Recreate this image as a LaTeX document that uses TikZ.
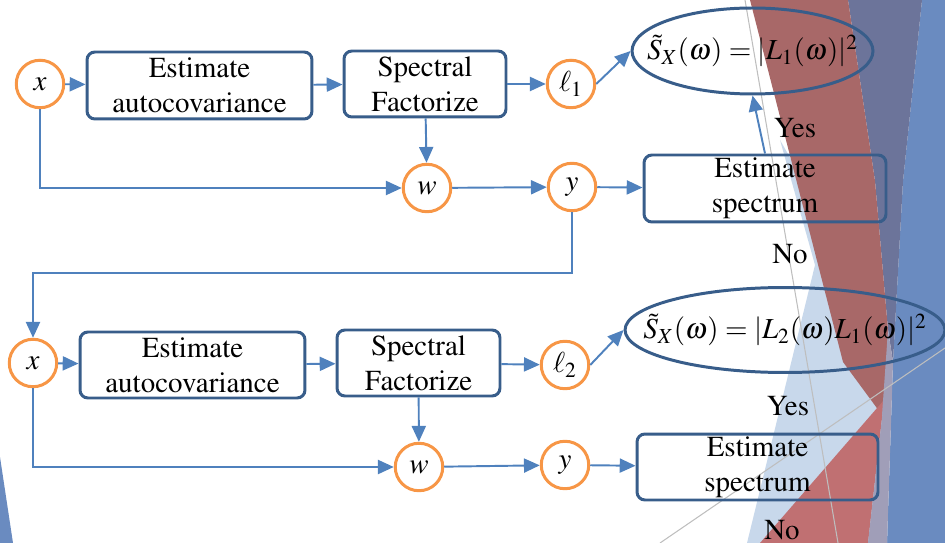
\documentclass[tikz,border=0pt]{standalone}
\usepackage[T1]{fontenc}
\usepackage{mathptmx}
\usetikzlibrary{arrows.meta,shapes.geometric}
\definecolor{sigorange}{HTML}{F79646}
\definecolor{boxblue}{HTML}{385D8A}
\definecolor{arrblue}{HTML}{4F81BD}
\definecolor{bgblue}{RGB}{106,139,192}
\definecolor{bgslate}{RGB}{108,116,154}
\definecolor{bgred}{RGB}{168,104,104}
\definecolor{bgpink}{RGB}{192,112,114}
\definecolor{bglight}{RGB}{200,216,235}
\definecolor{bgpurple}{RGB}{160,158,184}
\definecolor{bggray}{RGB}{190,190,190}

\begin{document}
\begin{tikzpicture}[x=0.02cm, y=-0.02cm,
  every node/.style={font=\fontsize{16.5}{19.9}\selectfont},
  sig/.style={circle, draw=sigorange, line width=1.7pt, fill=white, minimum size=0.95cm, inner sep=0pt},
  proc/.style={draw=boxblue, line width=1.7pt, rounded corners=4.5pt, align=center, inner sep=0pt},
  result/.style={ellipse, draw=boxblue, line width=1.7pt, inner sep=0pt},
  flow/.style={arrblue, line width=1.1pt, -{Triangle[length=9pt,width=8pt]}}]
  \useasboundingbox (0,0) rectangle (945,543);
  \fill[bgblue] (922,0) -- (945,0) -- (945,543) -- (887,543) -- (893,362) -- (903,181) -- cycle;
  \fill[bgslate] (848,0) -- (922,0) -- (903,181) -- (893,362) -- (888,330) -- (875,181) -- cycle;
  \fill[bglight] (780,140) -- (888,330) -- (887,543) -- (747,543) -- (815,265) -- cycle;
  \fill[bgred] (750,0) -- (848,0) -- (875,181) -- (888,330) -- (885,400) -- (882,415) -- (843,362) -- cycle;
  \fill[bgpink] (760,543) -- (884,400) -- (868,543) -- cycle;
  \fill[bgpurple] (882,415) -- (888,330) -- (893,362) -- (887,543) -- (868,543) -- (884,400) -- cycle;
  \fill[bgblue] (0,457) -- (13,543) -- (0,543) -- cycle;
  \draw[bggray, line width=0.6pt] (745,0) -- (838,543);
  \draw[bggray, line width=0.6pt] (660,543) -- (945,348);

  \node[sig] (x1) at (40,84) {$x$};
  \node[proc, minimum width=4.5cm, minimum height=1.34cm] (est1) at (199.5,85.5) {Estimate\\autocovariance};
  \node[proc, minimum width=3.24cm, minimum height=1.32cm] (fac1) at (425,84) {Spectral\\Factorize};
  \node[sig] (l1) at (571,84) {$\ell_1$};
  \node[result, minimum width=4.82cm, minimum height=1.72cm,
    label={center:$\tilde{S}_X(\omega) = |L_1(\omega)|^2$}] (res1) at (752.5,51) {};
  \node[sig] (w1) at (427,188) {$w$};
  \node[sig] (y1) at (572,187) {$y$};
  \node[proc, minimum width=4.84cm, minimum height=1.34cm] (spec1) at (765,188.5) {Estimate\\spectrum};
  \node (yes1) at (795,128) {Yes};
  \node (no1) at (790,254) {No};

  \node[sig] (x2) at (33,363) {$x$};
  \node[proc, minimum width=4.5cm, minimum height=1.32cm] (est2) at (192.5,365) {Estimate\\autocovariance};
  \node[proc, minimum width=3.26cm, minimum height=1.32cm] (fac2) at (418.5,363) {Spectral\\Factorize};
  \node[sig] (l2) at (565,365) {$\ell_2$};
  \node[result, minimum width=6.4cm, minimum height=1.7cm,
    label={center:$\tilde{S}_X(\omega) = |L_2(\omega)L_1(\omega)|^2$}] (res2) at (785,330) {};
  \node[sig] (w2) at (419,467) {$w$};
  \node[sig] (y2) at (565,465) {$y$};
  \node[proc, minimum width=4.82cm, minimum height=1.32cm] (spec2) at (757.5,467) {Estimate\\spectrum};
  \node (yes2) at (788,406) {Yes};
  \node (no2) at (782,530) {No};

  \coordinate (loop) at (300,273);
  \foreach \a/\b in {x1/est1, est1/fac1, fac1/l1, fac1/w1, w1/y1, y1/spec1,
                     x2/est2, est2/fac2, fac2/l2, fac2/w2, w2/y2, y2/spec2}
    \draw[flow] (\a) -- (\b);
  \draw[flow] (x1) |- (w1);
  \draw[flow] (x2) |- (w2);
  \draw[flow] (l1.east) -- (res1.west);
  \draw[flow] (l2.east) -- (res2.west);
  \draw[flow] (spec1.north) -- (res1.south);
  \draw[flow] (y1) -- (y1 |- loop) -| (x2);
\end{tikzpicture}
\end{document}
